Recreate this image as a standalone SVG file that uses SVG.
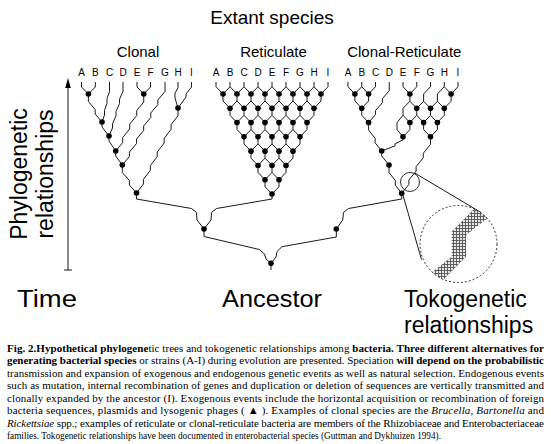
<svg xmlns="http://www.w3.org/2000/svg" width="551" height="444" viewBox="0 0 551 444">
<style>
.ln{fill:none;stroke:#1a1a1a;stroke-width:1}
.dot{fill:#000}
.t{font-family:"Liberation Sans",Arial,sans-serif;fill:#000}
.lt{font-family:"Liberation Sans",Arial,sans-serif;font-size:10px;text-anchor:middle}
.ttl{font-family:"Liberation Sans",Arial,sans-serif;font-size:15px;text-anchor:middle}
.big{font-family:"Liberation Sans",Arial,sans-serif;font-size:23px}
.cap{font-family:"Liberation Serif","Times New Roman",serif;font-size:11px;fill:#000}
.b{font-weight:bold}
.i{font-style:italic}
</style>
<defs>
<g id="ry"><path class="ln" d="M0,0V7M-7,14.29L0,7L7,14.29"/><circle class="dot" r="2.8"/></g>
<g id="rl"><path class="ln" d="M0,0V7L-7,14.29"/><circle class="dot" r="2.8"/></g>
<g id="rr"><path class="ln" d="M0,0V7L7,14.29"/><circle class="dot" r="2.8"/></g>
<path id="lf" class="ln" d="M0,0V4.71M-7,12L0,4.71L7,12"/>
<pattern id="hatch" width="3" height="3" patternUnits="userSpaceOnUse">
<rect width="3" height="3" fill="#e6e6e6"/>
<path d="M0,0.5H3M0.5,0V3" stroke="#555" stroke-width="0.9"/>
</pattern>
<clipPath id="bigc"><circle cx="458.5" cy="244" r="38.5"/></clipPath>
</defs>

<text class="t" x="272" y="24" font-size="19" text-anchor="middle">Extant species</text>

<g id="axis">
<text class="big" transform="translate(27,174) rotate(-90)" text-anchor="middle">Phylogenetic</text>
<text class="big" transform="translate(53,174) rotate(-90)" text-anchor="middle">relationships</text>
<line class="ln" x1="68" y1="86" x2="68" y2="270"/>
<line class="ln" x1="64" y1="270" x2="72" y2="270"/>
<polygon points="68,78 65.2,88 70.8,88" fill="#000"/>
</g>

<g id="clonal">
<text class="ttl" x="138" y="57">Clonal</text>
<g class="lt">
<text x="81.5" y="76">A</text><text x="95.3" y="76">B</text><text x="109.5" y="76">C</text><text x="123" y="76">D</text><text x="137" y="76">E</text><text x="150.5" y="76">F</text><text x="165" y="76">G</text><text x="178" y="76">H</text><text x="191.5" y="76">I</text>
</g>
<path class="ln" d="M81.5,82V87L88.4,94M95.3,82V87L88.4,94
M109.5,82V87l0,4.67 -2.5,7 0,4.67 -2.5,7 0,4.66 -2.5,7
M123,82V87l0,4.25 -3.5,8 0,4.25 -3.5,8 0,4.25 -3.5,8 0,4.25 -3.5,8
M137,82V87L143.75,94M150.5,82V87L143.75,94
M165,82V87l0,4.5 -7.117,8.5 0,4.5 -7.117,8.5 0,4.5 -7.117,8.5 0,4.5 -7.117,8.5 0,4.5 -7.117,8.5 0,4.5 -7.115,8.5
M178,82V88l-3,5v5l3,10
M191.5,82V87l-5.5,7v3l-8,11
M88.4,94v3l0,4.5 6.8,8 0,4.5 6.8,8
M102,122v5l7,9
M109,136v5l6.7,10
M143.75,94v3l0,5 -7.0125,8.5 0,5 -7.0125,8.5 0,5 -7.0125,8.5 0,5 -7.0125,8.5
M115.7,151v5l6.6,9
M122.3,165v3l0,4.5 7.1,8 0,4.5 7.1,8
M178,108v3l0,4.667 -6.917,9 0,4.667 -6.917,9 0,4.667 -6.917,9 0,4.667 -6.917,9 0,4.667 -6.917,9 0,4.665 -6.915,9"/>
<g class="dot">
<circle cx="88.4" cy="94" r="2.8"/><circle cx="143.75" cy="94" r="2.8"/><circle cx="178" cy="108" r="2.8"/><circle cx="102" cy="122" r="2.8"/><circle cx="109" cy="136" r="2.8"/><circle cx="115.7" cy="151" r="2.8"/><circle cx="122.3" cy="165" r="2.8"/><circle cx="136.5" cy="193" r="2.8"/>
</g>
</g>

<g id="reticulate">
<text class="ttl" x="273.5" y="57">Reticulate</text>
<g class="lt">
<text x="216" y="76">A</text><text x="230" y="76">B</text><text x="244" y="76">C</text><text x="258" y="76">D</text><text x="272" y="76">E</text><text x="286" y="76">F</text><text x="300" y="76">G</text><text x="314" y="76">H</text><text x="328" y="76">I</text>
</g>
<path class="ln" d="M216,82V86.71L223,94M328,82V86.71L321,94"/>
<use href="#lf" x="230" y="82"/><use href="#lf" x="244" y="82"/><use href="#lf" x="258" y="82"/><use href="#lf" x="272" y="82"/><use href="#lf" x="286" y="82"/><use href="#lf" x="300" y="82"/><use href="#lf" x="314" y="82"/>
<use href="#rr" x="223" y="94"/><use href="#ry" x="237" y="94"/><use href="#ry" x="251" y="94"/><use href="#ry" x="265" y="94"/><use href="#ry" x="279" y="94"/><use href="#ry" x="293" y="94"/><use href="#ry" x="307" y="94"/><use href="#rl" x="321" y="94"/>
<use href="#rr" x="230" y="108.29"/><use href="#ry" x="244" y="108.29"/><use href="#ry" x="258" y="108.29"/><use href="#ry" x="272" y="108.29"/><use href="#ry" x="286" y="108.29"/><use href="#ry" x="300" y="108.29"/><use href="#rl" x="314" y="108.29"/>
<use href="#rr" x="237" y="122.57"/><use href="#ry" x="251" y="122.57"/><use href="#ry" x="265" y="122.57"/><use href="#ry" x="279" y="122.57"/><use href="#ry" x="293" y="122.57"/><use href="#rl" x="307" y="122.57"/>
<use href="#rr" x="244" y="136.86"/><use href="#ry" x="258" y="136.86"/><use href="#ry" x="272" y="136.86"/><use href="#ry" x="286" y="136.86"/><use href="#rl" x="300" y="136.86"/>
<use href="#rr" x="251" y="151.14"/><use href="#ry" x="265" y="151.14"/><use href="#ry" x="279" y="151.14"/><use href="#rl" x="293" y="151.14"/>
<use href="#rr" x="258" y="165.43"/><use href="#ry" x="272" y="165.43"/><use href="#rl" x="286" y="165.43"/>
<use href="#rr" x="265" y="179.71"/><use href="#rl" x="279" y="179.71"/>
<circle class="dot" cx="272" cy="194" r="2.8"/>
</g>

<g id="clonal-reticulate">
<text class="ttl" x="404.3" y="57">Clonal-Reticulate</text>
<g class="lt">
<text x="348" y="76">A</text><text x="361.75" y="76">B</text><text x="375.5" y="76">C</text><text x="389.25" y="76">D</text><text x="403" y="76">E</text><text x="416.75" y="76">F</text><text x="430.5" y="76">G</text><text x="444.25" y="76">H</text><text x="458" y="76">I</text>
</g>
<path class="ln" d="M348,82V86.71L354.9,94
M361.75,82V86.71M354.9,94L361.75,86.71L368.6,94
M375.5,82V86.71L368.6,94
M354.9,94V101L361.75,108.29M368.6,94V101L361.75,108.29
M361.75,108.29V115.29L368.6,122.57
M389.25,82V86.71l0,4 -6.883,7.953 0,4 -6.883,7.953 0,4 -6.884,7.954
M403,82V86.71L409.9,94M416.75,82V86.71L409.9,94
M430.5,82V86.71L423.6,94V101.29M416.75,108.29L423.6,101.29L430.5,108.29
M444.25,82V86.71M437.4,94L444.25,86.71L451.1,94M437.4,94V101.29M430.5,108.29L437.4,101.29L444.25,108.29
M458,82V86.71L451.1,94
M451.1,94V101.29L444.25,108.29
M409.9,94V101.29M403,108.29L409.9,101.29L416.75,108.29
M403,108.29V115.29L409.9,122.57M403,115.29L397,122.57V129.57L403,136.86
M416.75,108.29V115.29M409.9,122.57L416.75,115.29L423.6,122.57
M430.5,108.29V115.29M423.6,122.57L430.5,115.29L437.4,122.57
M444.25,108.29V115.29L437.4,122.57
M409.9,122.57V129.57L403,136.86
M423.6,122.57V129.57L430.5,136.86
M437.4,122.57V129.57L430.5,136.86
M368.6,122.57v3l0,4.5 6.55,8.215 0,4.5 6.55,8.215
M403,136.86v3l-8,4 0,2 -13.3,5.14
M381.7,151v5l7.3,9
M389,165v3l0,4.5 6.35,8.15 0,4.5 6.35,8.15
M430.5,136.86v3l0,4.5 -7.2,8.86 0,4.5 -7.2,8.86 0,4.5 -7.2,8.86 0,4.5 -7.2,8.86"/>
<g class="dot">
<circle cx="354.9" cy="94" r="2.8"/><circle cx="368.6" cy="94" r="2.8"/><circle cx="361.75" cy="108.29" r="2.8"/><circle cx="368.6" cy="122.57" r="2.8"/>
<circle cx="409.9" cy="94" r="2.8"/><circle cx="451.1" cy="94" r="2.8"/>
<circle cx="416.75" cy="108.29" r="2.8"/><circle cx="430.5" cy="108.29" r="2.8"/><circle cx="444.25" cy="108.29" r="2.8"/>
<circle cx="409.9" cy="122.57" r="2.8"/><circle cx="423.6" cy="122.57" r="2.8"/><circle cx="437.4" cy="122.57" r="2.8"/>
<circle cx="403" cy="136.86" r="2.8"/><circle cx="430.5" cy="136.86" r="2.8"/>
<circle cx="381.7" cy="151" r="2.8"/><circle cx="389" cy="165" r="2.8"/><circle cx="401.7" cy="193.3" r="2.8"/>
</g>
</g>

<g id="connectors">
<path class="ln" d="M136.5,193V199L191.5,208.5L196.5,212.5L197,220L204,229
M272,194V199L216.5,208.5L211.5,212.5L211,220L204,229
M401.7,193.3V199L348.5,208.5L343.5,212.5L342.7,220L336.3,229
M204,229V236.5L259.3,249.5L264.5,254L266,259L271,263.3
M336.3,229V237L282,246.7L277,251.5L276,257L271,263.3
M271,263.3V270"/>
</g>

<g id="ancestor-nodes" class="dot">
<circle cx="204" cy="229" r="2.8"/><circle cx="336.3" cy="229" r="2.8"/><circle cx="271" cy="263.3" r="2.8"/>
</g>

<g id="magnifier">
<circle cx="410" cy="182" r="9.5" fill="none" stroke="#1a1a1a" stroke-width="0.9"/>
<line class="ln" x1="415" y1="173.2" x2="481" y2="212.5"/>
<line class="ln" x1="402.5" y1="193.5" x2="421.5" y2="259.5"/>
<polygon clip-path="url(#bigc)" fill="url(#hatch)" points="475,208 489,217 466,235 466,256.7 443,280 431,273 451.7,256.7 451.7,231.7"/>
<circle cx="458.5" cy="244" r="38.5" fill="none" stroke="#1a1a1a" stroke-width="0.9" stroke-dasharray="2,2"/>
</g>

<g id="bottom-labels">
<text class="big" x="17" y="307" textLength="60" lengthAdjust="spacingAndGlyphs">Time</text>
<text class="big" x="222" y="307" textLength="100" lengthAdjust="spacingAndGlyphs">Ancestor</text>
<text class="big" x="404" y="307">Tokogenetic</text>
<text class="big" x="404" y="333">relationships</text>
</g>

<g id="caption" class="cap">
<text x="7" y="352" textLength="537" lengthAdjust="spacing"><tspan class="b">Fig. 2.Hypothetical phylogene</tspan>tic trees and tokogenetic relationships among <tspan class="b">bacteria. Three different alternatives for</tspan></text>
<text x="7" y="364.4" textLength="537" lengthAdjust="spacing"><tspan class="b">generating bacterial species</tspan> or strains (A-I) during evolution are presented. Speciation <tspan class="b">will depend on the probabilistic</tspan></text>
<text x="7" y="376.9" textLength="537" lengthAdjust="spacing">transmission and expansion of exogenous and endogenous genetic events as well as natural selection. Endogenous events</text>
<text x="7" y="389.3" textLength="537" lengthAdjust="spacing">such as mutation, internal recombination of genes and duplication or deletion of sequences are vertically transmitted and</text>
<text x="7" y="401.7" textLength="537" lengthAdjust="spacing">clonally expanded by the ancestor (I). Exogenous events include the horizontal acquisition or recombination of foreign</text>
<text x="7" y="414.1" textLength="537" lengthAdjust="spacing">bacteria sequences, plasmids and lysogenic phages ( ▲ ). Examples of clonal species are the <tspan class="i">Brucella</tspan>, <tspan class="i">Bartonella</tspan> and</text>
<text x="7" y="426.6" textLength="537" lengthAdjust="spacing"><tspan class="i">Rickettsiae</tspan> spp.; examples of reticulate or clonal-reticulate bacteria are members of the Rhizobiaceae and Enterobacteriaceae</text>
<text x="7" y="439" textLength="434" lengthAdjust="spacingAndGlyphs">families. Tokogenetic relationships have been documented in enterobacterial species (Guttman and Dykhuizen 1994).</text>
</g>
</svg>
